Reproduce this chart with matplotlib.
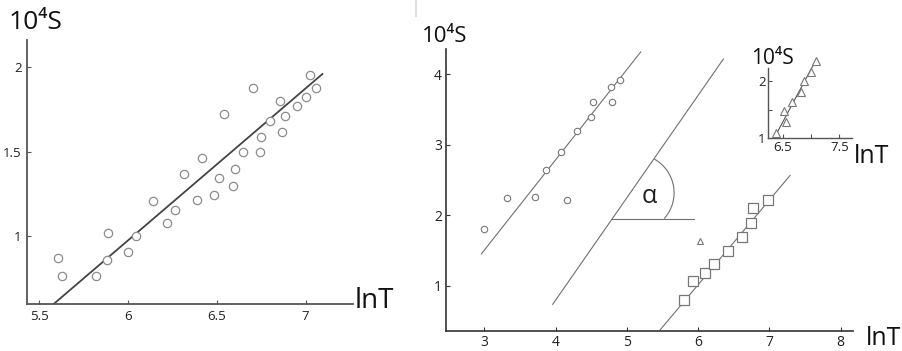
import matplotlib
matplotlib.use("Agg")
import matplotlib.pyplot as plt
from matplotlib.patches import Arc
from matplotlib.lines import Line2D

plt.rcParams['font.family'] = ['Open Sans', 'DejaVu Sans']

# ---------------- data ----------------
# left panel
left_x = [5.607, 5.626, 5.819, 5.879, 5.889, 5.997, 6.044, 6.140, 6.217, 6.264,
          6.315, 6.386, 6.416, 6.484, 6.510, 6.540, 6.589, 6.602, 6.649, 6.701,
          6.741, 6.746, 6.799, 6.855, 6.865, 6.885, 6.951, 7.004, 7.022, 7.058]
left_y = [0.872, 0.763, 0.763, 0.858, 1.020, 0.903, 1.000, 1.207, 1.079, 1.152,
          1.369, 1.211, 1.462, 1.241, 1.343, 1.720, 1.296, 1.396, 1.497, 1.878,
          1.495, 1.586, 1.682, 1.799, 1.617, 1.708, 1.771, 1.821, 1.953, 1.876]
left_fit_x = [5.579, 7.094]
left_fit_y = [0.596, 1.959]
left_xticks = [5.5, 6, 6.5, 7]
left_xticklabels = ['5.5', '6', '6.5', '7']
left_yticks = [1, 1.5, 2]
left_yticklabels = ['1', '1.5', '2']

# right panel: circles
circ_x = [3.000, 3.313, 3.706, 3.865, 4.076, 4.155, 4.305, 4.492, 4.529, 4.782, 4.796, 4.899]
circ_y = [1.809, 2.245, 2.259, 2.633, 2.893, 2.216, 3.186, 3.390, 3.608, 3.811, 3.608, 3.920]
circ_fit_x = [2.958, 5.194]
circ_fit_y = [1.450, 4.313]
# middle reference line
mid_x = [3.959, 6.354]
mid_y = [0.735, 4.213]
# squares
sq_x = [5.797, 5.933, 6.092, 6.227, 6.414, 6.611, 6.742, 6.775, 6.980]
sq_y = [0.801, 1.071, 1.175, 1.308, 1.497, 1.696, 1.894, 2.107, 2.216]
sq_fit_x = [5.465, 7.289]
sq_fit_y = [0.371, 2.562]
# lone triangle
tri_out_x = [6.026]
tri_out_y = [1.639]
right_xticks = [3, 4, 5, 6, 7, 8]
right_xticklabels = ['3', '4', '5', '6', '7', '8']
right_yticks = [1, 2, 3, 4]
right_yticklabels = ['1', '2', '3', '4']

# inset: triangles
tri_x = [6.383, 6.554, 6.529, 6.670, 6.824, 6.882, 7.000, 7.083]
tri_y = [1.087, 1.290, 1.480, 1.640, 1.800, 1.990, 2.160, 2.340]
tri_fit_x = [6.348, 7.058]
tri_fit_y = [1.000, 2.310]
inset_xticks = [6.5, 7, 7.5]
inset_xticklabels = ['6.5', '', '7.5']
inset_yticks = [1, 1.5, 2]
inset_yticklabels = ['1', '', '2']

# ---------------- figure ----------------
W, H = 903, 351
fig = plt.figure(figsize=(W / 100, H / 100), dpi=100)


def add_axes_px(x0, y_top, x1, y_bot):
    return fig.add_axes([x0 / W, (H - y_bot) / H, (x1 - x0) / W, (y_bot - y_top) / H])


def style(ax, spine_color, spine_w, tick_size, pad):
    for s in ['top', 'right']:
        ax.spines[s].set_visible(False)
    for s in ['left', 'bottom']:
        ax.spines[s].set_color(spine_color)
        ax.spines[s].set_linewidth(spine_w)
    ax.tick_params(direction='in', length=3, width=0.8, colors=spine_color,
                   labelcolor='#222222', labelsize=tick_size, pad=pad)
    ax.patch.set_alpha(0)


# left panel
axL = add_axes_px(27, 40, 353, 304)
axL.set_xlim(5.431, 7.266)
axL.set_ylim(0.598, 2.160)
style(axL, '#555555', 1.3, 9.5, 4)
axL.plot(left_fit_x, left_fit_y, color='#444444', lw=1.3, zorder=2)
axL.plot(left_x, left_y, 'o', ms=6, mfc='white', mec='#8c8c8c', mew=0.9, zorder=3)
axL.set_xticks(left_xticks, left_xticklabels)
axL.set_yticks(left_yticks, left_yticklabels)

# right panel
axR = add_axes_px(446, 49, 852.7, 330.7)
axR.set_xlim(2.462, 8.168)
axR.set_ylim(0.361, 4.355)
style(axR, '#333333', 1.2, 10, 3)
line_c = '#707070'
axR.plot(circ_fit_x, circ_fit_y, color=line_c, lw=0.8)
axR.plot(mid_x, mid_y, color=line_c, lw=0.8)
axR.plot(sq_fit_x, sq_fit_y, color=line_c, lw=0.8)
axR.plot(circ_x, circ_y, 'o', ms=4.6, mfc='white', mec='#777777', mew=0.8, zorder=3)
axR.plot(sq_x, sq_y, 's', ms=7.2, mfc='white', mec='#777777', mew=0.9, zorder=3)
axR.plot(tri_out_x, tri_out_y, '^', ms=5, mfc='white', mec='#777777', mew=0.8, zorder=3)
# angle alpha annotation
ang_vertex_x = 4.796
ang_y = 1.947
ang_end_x = 5.942
axR.plot([ang_vertex_x, ang_end_x], [ang_y, ang_y], color=line_c, lw=0.8)
axR.add_patch(Arc((5.119, 2.316), 1.086, 1.098, theta1=-42, theta2=61,
                  color=line_c, lw=0.8))
axR.text(5.31, 2.26, 'α', fontsize=18, ha='center', va='center', color='#222222')
axR.set_xticks(right_xticks, right_xticklabels)
axR.set_yticks(right_yticks, right_yticklabels)

# inset
axI = add_axes_px(768.3, 68.3, 851.7, 138.3)
axI.set_xlim(6.247, 7.718)
axI.set_ylim(1.0, 2.22)
style(axI, '#555555', 1.0, 9.5, 2)
axI.plot(tri_fit_x, tri_fit_y, color='#555555', lw=0.8, clip_on=False)
axI.plot(tri_x, tri_y, '^', ms=6, mfc='white', mec='#777777', mew=0.8, clip_on=False, zorder=3)
axI.set_xticks(inset_xticks, inset_xticklabels)
axI.set_yticks(inset_yticks, inset_yticklabels)

# axis titles
def ftext(x, y_base, s, size):
    fig.text(x / W, (H - y_base) / H, s, fontsize=size, va='baseline', ha='left',
             color='#111111')

ftext(9, 29, '10⁴S', 19)
ftext(355, 308, 'lnT', 20)
ftext(422, 42, '10⁴S', 16)
ftext(866, 345, 'lnT', 18)
ftext(751, 64, '10⁴S', 15)
ftext(854, 163, 'lnT', 18)

# faint separator mark at top
fig.add_artist(Line2D([416 / W, 416 / W], [1 - 0 / H, 1 - 16 / H], color='#dddddd', lw=1.5))

fig.savefig('out.png', dpi=100)
